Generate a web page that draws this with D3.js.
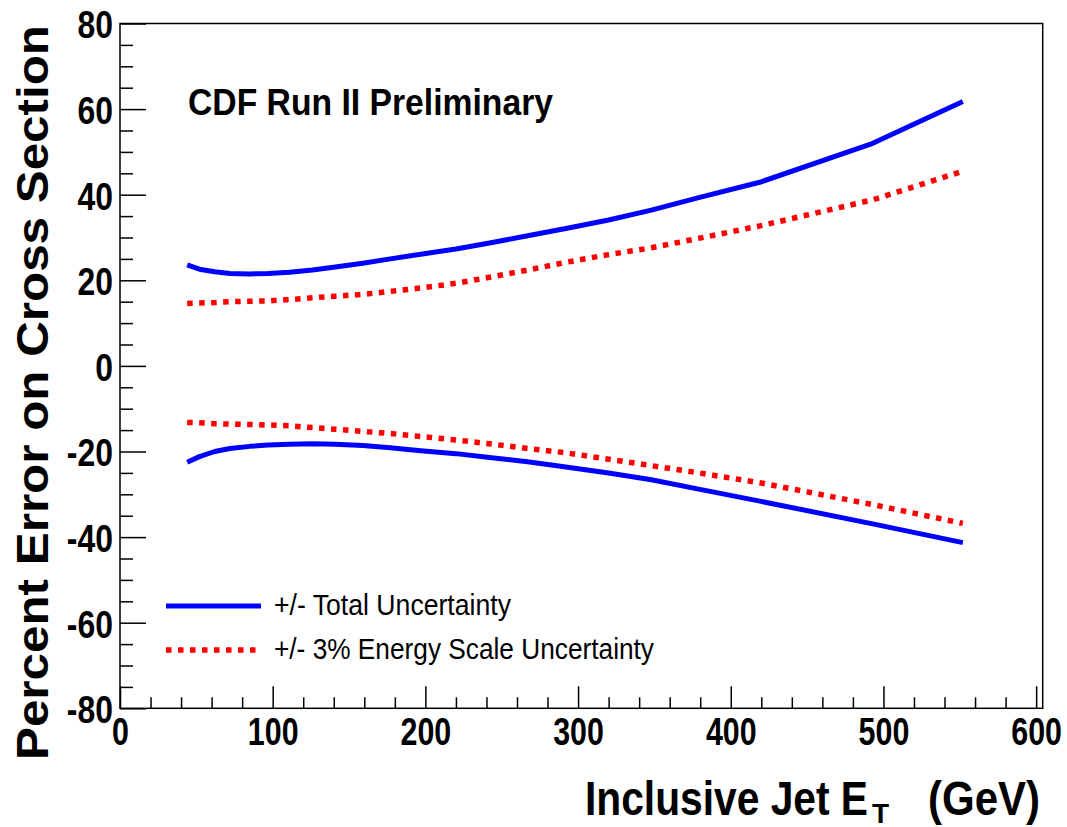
<!DOCTYPE html>
<html>
<head>
<meta charset="utf-8">
<script src="https://cdn.jsdelivr.net/npm/d3@7"></script>
<style>
  body { margin: 0; background: #fff; }
  text { font-family: "Liberation Sans", Arial, Helvetica, sans-serif; fill: #000; }
</style>
</head>
<body>
<svg id="chart" width="1067" height="827"></svg>
<script>
// Jet transverse energy (GeV) at which the uncertainty bands are evaluated
const energy = [44, 52, 62, 72, 85, 97, 111, 126, 141, 159, 177, 197, 220, 242, 267, 292, 320, 348, 379, 419, 493, 552];

// Total uncertainty band (percent)
const totalUp = [23.6, 22.6, 22.0, 21.6, 21.5, 21.6, 21.9, 22.4, 23.1, 24.0, 25.0, 26.1, 27.3, 28.7, 30.4, 32.1, 34.1, 36.4, 39.3, 42.9, 52.0, 61.8];
const totalDown = [-22.5, -21.2, -20.0, -19.3, -18.8, -18.5, -18.3, -18.2, -18.3, -18.6, -19.1, -19.8, -20.5, -21.4, -22.4, -23.6, -25.0, -26.6, -28.8, -31.6, -36.9, -41.3];

// 3% jet energy scale uncertainty band (percent)
const scaleUp = [14.6, 14.7, 14.8, 15.0, 15.1, 15.2, 15.5, 15.9, 16.3, 16.7, 17.4, 18.2, 19.3, 20.7, 22.4, 24.2, 26.0, 27.6, 29.8, 32.7, 38.8, 45.5];
const scaleDown = [-13.2, -13.3, -13.5, -13.6, -13.7, -13.8, -14.0, -14.4, -14.8, -15.3, -15.8, -16.5, -17.3, -18.2, -19.3, -20.3, -21.8, -23.3, -25.0, -27.3, -32.4, -36.8];

// Axis ticks
const xMajor = [0, 100, 200, 300, 400, 500, 600];
const xMinor = [20, 40, 60, 80, 120, 140, 160, 180, 220, 240, 260, 280, 320, 340, 360, 380, 420, 440, 460, 480, 520, 540, 560, 580];
const yMajor = [-80, -60, -40, -20, 0, 20, 40, 60, 80];
const yMinor = [-75, -70, -65, -55, -50, -45, -35, -30, -25, -15, -10, -5, 5, 10, 15, 25, 30, 35, 45, 50, 55, 65, 70, 75];

const legendLabels = ["+/- Total Uncertainty", "+/- 3% Energy Scale Uncertainty"];

const svg = d3.select("#chart");
const frame = { left: 120, right: 1042.7, top: 23.5, bottom: 708.3 };

const x = d3.scaleLinear().domain([0, 604.3]).range([frame.left, frame.right]);
const y = d3.scaleLinear().domain([-80, 80]).range([frame.bottom, frame.top]);

// Narrow the glyphs horizontally, like the condensed Helvetica of the plot
function condense(sel, f) {
  sel.each(function () {
    const L = this.getComputedTextLength();
    d3.select(this).attr("textLength", L * f).attr("lengthAdjust", "spacingAndGlyphs");
  });
}

// Plain hyphen-minus for negative tick labels
const plain = d => String(d);

// Frame
svg.append("rect")
  .attr("x", frame.left).attr("y", frame.top)
  .attr("width", frame.right - frame.left).attr("height", frame.bottom - frame.top)
  .attr("fill", "none").attr("stroke", "#000").attr("stroke-width", 1.5);

// Y axis: minor ticks, then major ticks with labels
const yMinorAxis = svg.append("g").attr("transform", `translate(${frame.left},0)`)
  .call(d3.axisLeft(y).tickValues(yMinor).tickSize(-13).tickFormat(""));
const yMajorAxis = svg.append("g").attr("transform", `translate(${frame.left},0)`)
  .call(d3.axisLeft(y).tickValues(yMajor).tickSize(-26).tickPadding(7).tickFormat(plain));

// X axis
const xMinorAxis = svg.append("g").attr("transform", `translate(0,${frame.bottom})`)
  .call(d3.axisBottom(x).tickValues(xMinor).tickSize(-11).tickFormat(""));
const xMajorAxis = svg.append("g").attr("transform", `translate(0,${frame.bottom})`)
  .call(d3.axisBottom(x).tickValues(xMajor).tickSize(-22).tickPadding(9).tickFormat(plain));

[yMinorAxis, yMajorAxis, xMinorAxis, xMajorAxis].forEach(g => {
  g.select(".domain").remove();
  g.selectAll(".tick line").attr("stroke", "#000").attr("stroke-width", 1.5);
  g.selectAll(".tick text")
    .style("font-family", "'Liberation Sans', Arial, sans-serif")
    .style("font-weight", "bold").style("font-size", "38px").attr("fill", "#000");
});
yMajorAxis.selectAll(".tick text").attr("dy", "0.38em");
xMajorAxis.selectAll(".tick text").attr("dy", "0.72em");
condense(yMajorAxis.selectAll(".tick text"), 0.84);
condense(xMajorAxis.selectAll(".tick text"), 0.8);

// Curves
const pts = vals => energy.map((e, i) => [e, vals[i]]);
const line = d3.line().x(d => x(d[0])).y(d => y(d[1]));

const series = [
  { vals: totalUp, color: "#0000ff", dash: null, width: 5 },
  { vals: totalDown, color: "#0000ff", dash: null, width: 5 },
  { vals: scaleUp, color: "#ff0000", dash: "5.5,6.5", width: 5.5 },
  { vals: scaleDown, color: "#ff0000", dash: "5.5,6.5", width: 5.5 }
];
series.forEach(s => {
  svg.append("path")
    .attr("d", line(pts(s.vals)))
    .attr("fill", "none")
    .attr("stroke", s.color)
    .attr("stroke-width", s.width)
    .attr("stroke-dasharray", s.dash)
    .attr("stroke-linejoin", "round");
});

// Legend
const legendStyles = [
  { color: "#0000ff", dash: null, width: 5, ly: 606, ty: 615, len: 237 },
  { color: "#ff0000", dash: "5.5,6.5", width: 5.5, ly: 650, ty: 659, len: 380 }
];
legendLabels.forEach((lab, i) => {
  const st = legendStyles[i];
  svg.append("line")
    .attr("x1", 166).attr("x2", 261).attr("y1", st.ly).attr("y2", st.ly)
    .attr("stroke", st.color).attr("stroke-width", st.width)
    .attr("stroke-dasharray", st.dash);
  svg.append("text")
    .attr("x", 274).attr("y", st.ty)
    .style("font-size", "29px")
    .attr("textLength", st.len).attr("lengthAdjust", "spacingAndGlyphs")
    .text(lab);
});

// Header
svg.append("text")
  .attr("x", 188).attr("y", 115)
  .style("font-size", "37px").style("font-weight", "bold")
  .attr("textLength", 365).attr("lengthAdjust", "spacingAndGlyphs")
  .text("CDF Run II Preliminary");

// Y title
svg.append("text")
  .attr("transform", "translate(48,760) rotate(-90)")
  .style("font-size", "44px").style("font-weight", "bold")
  .attr("textLength", 735).attr("lengthAdjust", "spacingAndGlyphs")
  .text("Percent Error on Cross Section");

// X title: Inclusive Jet E_T (GeV)
svg.append("text")
  .attr("x", 585).attr("y", 815)
  .style("font-size", "48px").style("font-weight", "bold")
  .attr("textLength", 283).attr("lengthAdjust", "spacingAndGlyphs")
  .text("Inclusive Jet E");
svg.append("text")
  .attr("x", 872).attr("y", 823)
  .style("font-size", "28px").style("font-weight", "bold")
  .text("T");
svg.append("text")
  .attr("x", 1040).attr("y", 815)
  .attr("text-anchor", "end")
  .style("font-size", "48px").style("font-weight", "bold")
  .attr("textLength", 112).attr("lengthAdjust", "spacingAndGlyphs")
  .text("(GeV)");
</script>
</body>
</html>
